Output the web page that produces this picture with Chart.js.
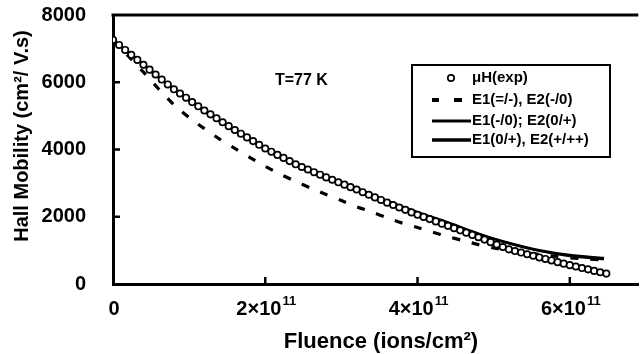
<!DOCTYPE html>
<html><head><meta charset="utf-8">
<script src="https://cdn.jsdelivr.net/npm/chart.js@4"></script>
<style>html,body{margin:0;padding:0;background:#fff;overflow:hidden}</style>
</head><body>
<canvas id="c" width="644" height="354"></canvas>
<script>
// Fluence in units of 1e11 ions/cm^2
const fluenceExp = [0,0.08,0.16,0.24,0.32,0.40,0.48,0.56,0.64,0.72,0.80,0.88,0.96,1.04,1.12,1.20,1.28,1.36,1.44,1.52,1.60,1.68,1.76,1.84,1.92,2.00,2.08,2.16,2.24,2.32,2.40,2.48,2.56,2.64,2.72,2.80,2.88,2.96,3.04,3.12,3.20,3.28,3.36,3.44,3.52,3.60,3.68,3.76,3.84,3.92,4.00,4.08,4.16,4.24,4.32,4.40,4.48,4.56,4.64,4.72,4.80,4.88,4.96,5.04,5.12,5.20,5.28,5.36,5.44,5.52,5.60,5.68,5.76,5.84,5.92,6.00,6.08,6.16,6.24,6.32,6.40,6.48];
const hallExp = [7260,7110,6960,6815,6665,6520,6375,6230,6080,5935,5790,5665,5540,5410,5285,5160,5045,4930,4810,4695,4580,4470,4360,4250,4140,4030,3935,3840,3750,3655,3560,3480,3405,3325,3250,3170,3100,3025,2955,2880,2810,2730,2655,2575,2500,2420,2350,2275,2205,2130,2060,1995,1930,1860,1795,1730,1660,1595,1525,1460,1390,1320,1245,1175,1100,1030,980,935,885,840,790,745,700,650,605,560,520,475,435,390,350,310];

const fluenceDash = [0,0.2,0.4,0.6,0.8,1.0,1.2,1.4,1.6,1.8,2.0,2.2,2.4,2.6,2.8,3.0,3.2,3.4,3.6,3.8,4.0,4.2,4.4,4.6,4.8,5.0,5.2,5.4,5.6,5.8,6.0,6.2,6.45];
const hallDash = [7260,6780,6300,5800,5330,4950,4620,4310,4030,3760,3500,3260,3050,2850,2660,2480,2300,2140,1970,1810,1680,1540,1410,1290,1170,1070,990,930,880,830,780,745,715];

const fluenceSolid = [0,0.4,0.8,1.2,1.6,2.0,2.4,2.8,3.2,3.6,4.0,4.4,4.8,5.2,5.6,6.0,6.45];
const hallSolid1 = [7260,6520,5790,5160,4580,4040,3580,3190,2840,2460,2120,1810,1480,1220,1005,860,770];
const hallSolid2 = [7260,6520,5790,5160,4580,4040,3580,3190,2840,2470,2135,1830,1500,1210,985,835,740];

const seriesLabels = ["\u03BCH(exp)", "E1(=/-), E2(-/0)", "E1(-/0); E2(0/+)", "E1(0/+), E2(+/++)"];
const xTickValues = [0,2,4,6];
const xTickMantissa = ["0","2\u00D710","4\u00D710","6\u00D710"];
const xTickExponent = ["","11","11","11"];
const yTickValues = [0,2000,4000,6000,8000];
const yTickLabels = ["0","2000","4000","6000","8000"];
const xTitle = "Fluence (ions/cm\u00B2)";
const yTitle = "Hall Mobility (cm\u00B2/ V.s)";
const tempLabel = "T=77 K";

const FONT = '"Liberation Sans", Arial, Helvetica, sans-serif';
const pts = (xs, ys) => xs.map((x, i) => ({x: x, y: ys[i]}));

const decor = {
  id: 'decor',
  afterDraw(chart) {
    const ctx = chart.ctx, a = chart.chartArea;
    const xs = chart.scales.x, ys = chart.scales.y;
    ctx.save();
    ctx.strokeStyle = '#000'; ctx.fillStyle = '#000';
    // top frame
    ctx.lineWidth = 3;
    ctx.beginPath(); ctx.moveTo(a.left - 1.5, a.top); ctx.lineTo(a.right, a.top); ctx.stroke();
    // inner ticks
    ctx.lineWidth = 2.5;
    xTickValues.slice(1).forEach(v => {
      const px = xs.getPixelForValue(v);
      ctx.beginPath(); ctx.moveTo(px, a.bottom); ctx.lineTo(px, a.bottom - 7); ctx.stroke();
    });
    yTickValues.slice(1, -1).forEach(v => {
      const py = ys.getPixelForValue(v);
      ctx.beginPath(); ctx.moveTo(a.left, py); ctx.lineTo(a.left + 7, py); ctx.stroke();
    });
    // x tick labels with superscript exponents
    ctx.textBaseline = 'middle'; ctx.textAlign = 'left';
    xTickValues.forEach((v, i) => {
      const px = xs.getPixelForValue(v);
      ctx.font = 'bold 20px ' + FONT;
      const wm = ctx.measureText(xTickMantissa[i]).width;
      ctx.font = 'bold 13px ' + FONT;
      const we = xTickExponent[i] ? ctx.measureText(xTickExponent[i]).width + 1 : 0;
      const x0 = px - (wm + we) / 2 + 1;
      ctx.font = 'bold 20px ' + FONT;
      ctx.fillText(xTickMantissa[i], x0, a.bottom + 25);
      if (xTickExponent[i]) {
        ctx.font = 'bold 13px ' + FONT;
        ctx.fillText(xTickExponent[i], x0 + wm + 1, a.bottom + 17);
      }
    });
    // titles
    ctx.font = 'bold 22px ' + FONT;
    ctx.textAlign = 'center'; ctx.textBaseline = 'middle';
    ctx.fillText(xTitle, 381, 342);
    ctx.save();
    ctx.translate(22, 136); ctx.rotate(-Math.PI / 2);
    ctx.font = 'bold 20px ' + FONT;
    ctx.fillText(yTitle, 0, 0);
    ctx.restore();
    ctx.font = 'bold 16px ' + FONT;
    ctx.textAlign = 'left';
    ctx.fillText(tempLabel, 275, 81);
    // legend box
    ctx.lineWidth = 2;
    ctx.strokeRect(412, 65, 198, 92);
    const rowsY = [78, 100, 121, 140];
    ctx.font = 'bold 15px ' + FONT;
    ctx.textAlign = 'left';
    seriesLabels.forEach((t, i) => ctx.fillText(t, 472, rowsY[i]));
    // symbols
    ctx.lineWidth = 1.7;
    ctx.fillStyle = '#fff';
    ctx.beginPath(); ctx.arc(451, rowsY[0], 3.2, 0, Math.PI * 2); ctx.fill(); ctx.stroke();
    ctx.fillStyle = '#000';
    ctx.fillRect(432, rowsY[1] - 2, 7, 4);
    ctx.fillRect(454, rowsY[1] - 2, 8, 4);
    ctx.lineWidth = 3;
    ctx.beginPath(); ctx.moveTo(432, rowsY[2]); ctx.lineTo(471, rowsY[2]); ctx.stroke();
    ctx.lineWidth = 3.5;
    ctx.beginPath(); ctx.moveTo(432, rowsY[3]); ctx.lineTo(471, rowsY[3]); ctx.stroke();
    ctx.restore();
  }
};

new Chart(document.getElementById('c'), {
  type: 'scatter',
  data: {
    datasets: [
      { label: seriesLabels[0], data: pts(fluenceExp, hallExp), showLine: false,
        pointStyle: 'circle', pointRadius: 3.2, pointBorderWidth: 1.7,
        pointBorderColor: '#000', pointBackgroundColor: '#fff', order: 0 },
      { label: seriesLabels[1], data: pts(fluenceDash, hallDash), showLine: true,
        borderColor: '#000', borderWidth: 3.2, borderDash: [8, 12], pointRadius: 0,
        tension: 0.3, fill: false, order: 1 },
      { label: seriesLabels[2], data: pts(fluenceSolid, hallSolid1), showLine: true,
        borderColor: '#000', borderWidth: 2.5, pointRadius: 0, tension: 0.4,
        cubicInterpolationMode: 'monotone', fill: false, order: 2 },
      { label: seriesLabels[3], data: pts(fluenceSolid, hallSolid2), showLine: true,
        borderColor: '#000', borderWidth: 2.5, pointRadius: 0, tension: 0.4,
        cubicInterpolationMode: 'monotone', fill: false, order: 3 }
    ]
  },
  options: {
    responsive: false,
    animation: false,
    devicePixelRatio: 1,
    layout: { padding: { top: 15, left: 0, right: 0, bottom: 0 } },
    plugins: { legend: { display: false }, tooltip: { enabled: false } },
    scales: {
      x: {
        type: 'linear', min: 0, max: 6.9,
        afterBuildTicks: s => { s.ticks = xTickValues.map(v => ({ value: v })); },
        afterFit: s => { s.height = 70; s.paddingLeft = 0; s.paddingRight = 0; },
        grid: { display: false },
        border: { display: true, color: '#000', width: 3 },
        ticks: { display: false }
      },
      y: {
        type: 'linear', min: 0, max: 8000,
        afterBuildTicks: s => { s.ticks = yTickValues.map(v => ({ value: v })); },
        afterFit: s => { s.width = 113; s.paddingTop = 0; s.paddingBottom = 0; },
        grid: { display: false },
        border: { display: true, color: '#000', width: 3 },
        ticks: {
          color: '#000', padding: 19,
          font: { family: FONT, size: 20, weight: 'bold' },
          callback: v => { const i = yTickValues.indexOf(v); return i >= 0 ? yTickLabels[i] : ''; }
        }
      }
    }
  },
  plugins: [decor]
});
</script>
</body></html>
